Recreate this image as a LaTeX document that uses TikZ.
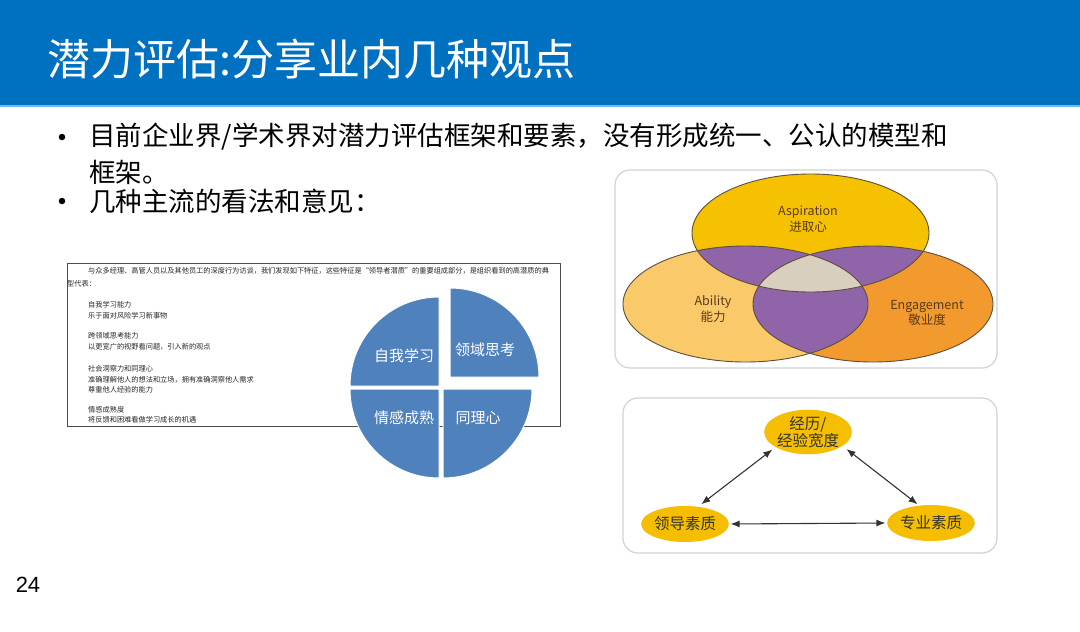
\documentclass[tikz,border=0pt]{standalone}
\usepackage{fontspec}
\setmainfont{Noto Sans CJK SC}
\newfontfamily\numfont{Liberation Sans}
\usetikzlibrary{shapes.geometric,arrows.meta}
\definecolor{hdr}{HTML}{0070C0}
\definecolor{hdrline}{HTML}{6CBCEB}
\definecolor{pieblue}{HTML}{4F81BD}
\definecolor{vtop}{HTML}{F5C100}
\definecolor{vleft}{HTML}{F9C96A}
\definecolor{vright}{HTML}{F29A2E}
\definecolor{vpurple}{HTML}{8F64A8}
\definecolor{vcenter}{HTML}{D9CFBF}
\definecolor{vline}{HTML}{5E4E3E}
\definecolor{vtext}{HTML}{5A3A1A}
\definecolor{tri}{HTML}{F5BE00}
\definecolor{panel}{HTML}{D2D2D2}
\begin{document}
\begin{tikzpicture}[x=1pt,y=-1pt,
  titletext/.style={anchor=west,inner sep=0,text=white,font=\fontsize{43}{50}\selectfont},
  bul/.style={anchor=west,inner sep=0,font=\fontsize{26.5}{32}\selectfont},
  bulmark/.style={circle,fill=black,inner sep=0,minimum size=6.5pt},
  tiny/.style={anchor=west,inner sep=0,font=\fontsize{7.2}{9}\selectfont,text=black!85},
  pielbl/.style={text=white,font=\fontsize{15}{18}\selectfont,inner sep=0},
  pieq/.style={fill=pieblue,draw=white,line width=1pt},
  vlbl/.style={text=vtext,font=\fontsize{12.5}{15.5}\selectfont,align=center,inner sep=0},
  trinode/.style={ellipse,fill=tri,inner sep=0,minimum width=82pt,minimum height=36pt,font=\fontsize{15.5}{19}\selectfont,align=center,text=black!80},
  dbl/.style={{Latex[length=9pt,width=7pt]}-{Latex[length=9pt,width=7pt]},draw=black!80,line width=1.1pt},
  panelbox/.style={draw=panel,line width=1.2pt,rounded corners=15pt,fill=white},
]
\useasboundingbox (0,0) rectangle (1080,632);
\fill[white] (0,0) rectangle (1080,632);
% header
\fill[hdr] (0,0) rectangle (1080,105);
\fill[hdrline] (0,105) rectangle (1080,107);
\node[titletext] (title) at (47,59) {潜力评估:分享业内几种观点};
% bullets
\node[bulmark] (m1) at (62,137) {};
\node[bul] (t1) at (89,137) {目前企业界/学术界对潜力评估框架和要素，没有形成统一、公认的模型和};
\node[bul] (t2) at (89,172) {框架。};
\node[bulmark] (m2) at (62,201) {};
\node[bul] (t3) at (89,201) {几种主流的看法和意见：};
% left text box
\draw[black!70,line width=1pt] (67,263) rectangle (560,426);
\node[tiny] (p1) at (88,271) {与众多经理、高管人员以及其他员工的深度行为访谈，我们发现如下特征，这些特征是“领导者潜质”的重要组成部分，是组织看到的高潜质的典};
\node[tiny] (p2) at (67,284) {型代表：};
\node[tiny] (i1) at (88,305) {自我学习能力};
\node[tiny] (i2) at (88,316) {乐于面对风险学习新事物};
\node[tiny] (i3) at (88,336) {跨领域思考能力};
\node[tiny] (i4) at (88,347) {以更宽广的视野看问题，引入新的观点};
\node[tiny] (i5) at (88,369) {社会洞察力和同理心};
\node[tiny] (i6) at (88,380) {准确理解他人的想法和立场，拥有准确洞察他人需求};
\node[tiny] (i7) at (88,390) {尊重他人经验的能力};
\node[tiny] (i8) at (88,410) {情感成熟度};
\node[tiny] (i9) at (88,420) {将反馈和困难看做学习成长的机遇};
% pie
\path[pieq] (450,377) -- ++(0:89pt) arc[start angle=0,end angle=90,radius=89pt] -- cycle;
\path[pieq] (439,386) -- ++(90:89pt) arc[start angle=90,end angle=180,radius=89pt] -- cycle;
\path[pieq] (439,389) -- ++(180:89pt) arc[start angle=180,end angle=270,radius=89pt] -- cycle;
\path[pieq] (443,389) -- ++(270:89pt) arc[start angle=270,end angle=360,radius=89pt] -- cycle;
\node[pielbl] (q1) at (404,356) {自我学习};
\node[pielbl] (q2) at (485,350) {领域思考};
\node[pielbl] (q3) at (404,418) {情感成熟};
\node[pielbl] (q4) at (478,418) {同理心};
% venn panel
\path[panelbox] (615,170) rectangle (997,368);
\fill[vleft] (745.5,304) ellipse [x radius=122.5pt,y radius=58pt];
\fill[vright] (873,304) ellipse [x radius=120pt,y radius=58pt];
\fill[vtop] (810.5,233) ellipse [x radius=118.5pt,y radius=59pt];
\begin{scope}
\clip (745.5,304) ellipse [x radius=122.5pt,y radius=58pt];
\fill[vpurple] (873,304) ellipse [x radius=120pt,y radius=58pt];
\fill[vpurple] (810.5,233) ellipse [x radius=118.5pt,y radius=59pt];
\end{scope}
\begin{scope}
\clip (873,304) ellipse [x radius=120pt,y radius=58pt];
\fill[vpurple] (810.5,233) ellipse [x radius=118.5pt,y radius=59pt];
\end{scope}
\begin{scope}
\clip (745.5,304) ellipse [x radius=122.5pt,y radius=58pt];
\clip (873,304) ellipse [x radius=120pt,y radius=58pt];
\fill[vcenter] (810.5,233) ellipse [x radius=118.5pt,y radius=59pt];
\end{scope}
\draw[vline,line width=0.9pt] (745.5,304) ellipse [x radius=122.5pt,y radius=58pt];
\draw[vline,line width=0.9pt] (873,304) ellipse [x radius=120pt,y radius=58pt];
\draw[vline,line width=0.9pt] (810.5,233) ellipse [x radius=118.5pt,y radius=59pt];
\node[vlbl] (asp) at (808,219) {Aspiration\\进取心};
\node[vlbl] (abl) at (713,309) {Ability\\能力};
\node[vlbl] (eng) at (927,313) {Engagement\\敬业度};
% triangle panel
\path[panelbox] (623,398) rectangle (997,553);
\node[trinode,minimum width=80pt,minimum height=43pt] (exp) at (808,432) {经历/\\[-2pt]经验宽度};
\node[trinode] (lead) at (685,524) {领导素质};
\node[trinode] (prof) at (931,523) {专业素质};
\draw[dbl,shorten <=4pt,shorten >=4pt] (lead.53) -- (exp.205);
\draw[dbl,shorten <=5pt,shorten >=2pt] (exp.338) -- (prof.124);
\draw[dbl,shorten <=1.5pt,shorten >=1.5pt] (lead.east) -- (prof.west);
% page number
\node[font=\numfont\fontsize{22}{26}\selectfont,inner sep=0] (pg) at (28,585) {24};
\end{tikzpicture}
\end{document}
